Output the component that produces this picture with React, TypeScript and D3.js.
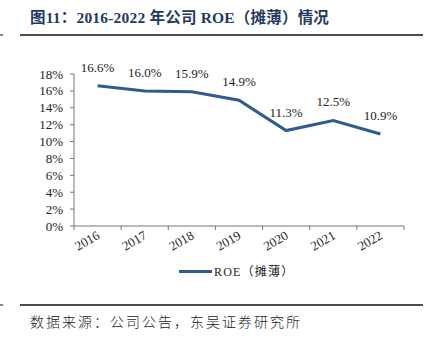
import React from "react";
import * as d3 from "d3";

const categories = ["2016", "2017", "2018", "2019", "2020", "2021", "2022"];
const roe = [16.6, 16.0, 15.9, 14.9, 11.3, 12.5, 10.9];
const yTicks = [0, 2, 4, 6, 8, 10, 12, 14, 16, 18];
const title = "图11：2016-2022 年公司 ROE（摊薄）情况";
const seriesName = "ROE（摊薄）";
const source = "数据来源：公司公告，东吴证券研究所";

export default function App() {
  const W = 431, H = 342;
  const left = 74, right = 404, top = 74, bottom = 226;
  const x = d3.scaleBand<string>().domain(categories).range([left, right]);
  const y = d3.scaleLinear().domain([0, 18]).range([bottom, top]);
  const line = d3
    .line<number>()
    .x((_, i) => (x(categories[i]) as number) + x.bandwidth() / 2)
    .y((d) => y(d));
  const serif = "'Times New Roman', 'Liberation Serif', serif";
  const lineColor = "#2f5b8f";
  const ticksX = [...categories.map((c) => x(c) as number), right];
  return (
    <svg width={W} height={H} style={{ position: "absolute", left: 0, top: 0 }}>
      <rect width={W} height={H} fill="#fff" />
      <text x={30} y={23} fontFamily={"'Liberation Serif', 'Noto Sans CJK SC', serif"} fontWeight="bold" fontSize={15.5} fill="#1f3a5f" letterSpacing={0.2}>
        {title}
      </text>
      <line x1={20} x2={423} y1={35} y2={35} stroke="#111" strokeWidth={1.5} />
      <line x1={0} x2={3} y1={35} y2={35} stroke="#111" strokeWidth={1} />
      {/* y axis */}
      <line x1={left} x2={left} y1={top} y2={bottom} stroke="#777" strokeWidth={1} />
      {yTicks.map((t) => (
        <g key={t}>
          <line x1={left - 4} x2={left} y1={y(t)} y2={y(t)} stroke="#777" />
          <text x={left - 11} y={y(t) + 4.5} textAnchor="end" fontFamily={serif} fontSize={13} fill="#222">
            {t}%
          </text>
        </g>
      ))}
      {/* x axis */}
      <line x1={left} x2={right} y1={bottom} y2={bottom} stroke="#777" />
      {ticksX.map((tx, i) => (
        <line key={i} x1={tx} x2={tx} y1={bottom} y2={bottom + 4} stroke="#777" />
      ))}
      {categories.map((c) => {
        const cx = (x(c) as number) + x.bandwidth() / 2;
        return (
          <text
            key={c}
            transform={`translate(${cx + 3},${bottom + 12}) rotate(-30)`}
            textAnchor="end"
            fontFamily={serif}
            fontSize={13}
            fill="#222"
          >
            {c}
          </text>
        );
      })}
      <path d={line(roe) || ""} fill="none" stroke={lineColor} strokeWidth={3} />
      {roe.map((v, i) => {
        const cx = (x(categories[i]) as number) + x.bandwidth() / 2;
        return (
          <text key={i} x={cx} y={y(v) - 14} textAnchor="middle" fontFamily={serif} fontSize={13} fill="#222">
            {v.toFixed(1)}%
          </text>
        );
      })}
      {/* legend */}
      <line x1={179} x2={212} y1={271.5} y2={271.5} stroke={lineColor} strokeWidth={3} />
      <text x={214} y={276} fontFamily={"'Liberation Serif', 'Noto Sans CJK SC', serif"} fontSize={12} fill="#222" letterSpacing={1.2}>
        {seriesName}
      </text>
      <line x1={20} x2={423} y1={305} y2={305} stroke="#111" strokeWidth={1.5} />
      <line x1={0} x2={3} y1={305} y2={305} stroke="#111" strokeWidth={1} />
      <text x={30} y={327} fontFamily={"'Noto Sans CJK SC', sans-serif"} fontSize={14} fontWeight={300} fill="#222" letterSpacing={2}>
        {source}
      </text>
    </svg>
  );
}
